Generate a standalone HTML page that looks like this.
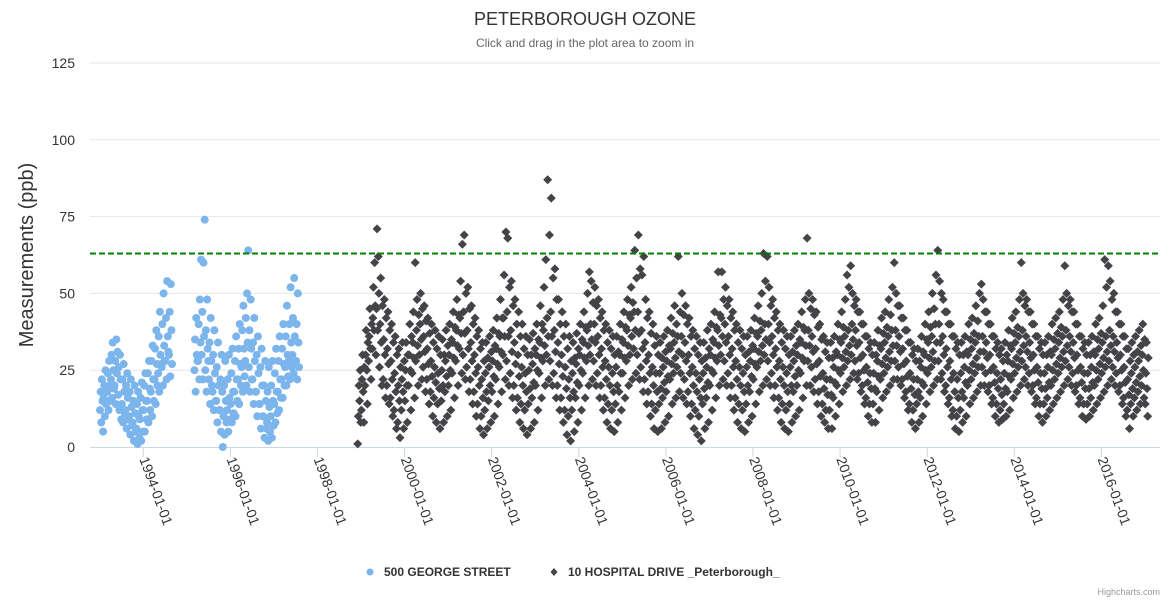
<!DOCTYPE html>
<html><head><meta charset="utf-8"><style>
html,body{margin:0;padding:0;background:#fff;}
svg{display:block;font-family:"Liberation Sans","DejaVu Sans",sans-serif;}
</style></head><body>
<svg id="chart" width="1170" height="600" viewBox="0 0 1170 600">
<rect width="1170" height="600" fill="#fff"/>
<text x="585" y="25" text-anchor="middle" font-size="18" fill="#333">PETERBOROUGH OZONE</text>
<text x="585" y="47" text-anchor="middle" font-size="12" fill="#666">Click and drag in the plot area to zoom in</text>
<text transform="translate(33,255) rotate(-90)" text-anchor="middle" font-size="20" fill="#333">Measurements (ppb)</text>
<g id="grid"></g><g id="xaxis"></g><g id="s1"></g><g id="s2"></g><g id="plotline"></g>
<g>
<g><circle cx="370" cy="572" r="3.5" fill="#7cb5ec"/><text x="384" y="576" font-size="12" font-weight="bold" fill="#333">500 GEORGE STREET</text></g>
<g><path d="M554 568 L557.5 572 L554 576 L550.5 572Z" fill="#434348"/><text x="568" y="576" font-size="12" font-weight="bold" fill="#333">10 HOSPITAL DRIVE _Peterborough_</text></g>
</g>
<text x="1160" y="595" text-anchor="end" font-size="9" fill="#999">Highcharts.com</text>
</svg>
<script>
const yTicks=[0,25,50,75,100,125];
const xTickYears=[1994,1996,1998,2000,2002,2004,2006,2008,2010,2012,2014,2016];
const threshold=63;
const georgeStarts=[[1993,0],[1995,2]];
const georgeValues=[[
12,18,8,22,15,5, 16,20,10,25,14,19, 18,24,12,28,20,15, 22,30,16,34,25,19, 20,28,14,35,24,31, 17,26,12,30,22,9,
14,22,8,27,18,11, 12,20,6,24,16,9, 10,18,4,22,13,7, 8,15,2,20,11,5, 6,14,1,18,10,3, 9,16,2,21,12,5,
12,20,5,24,15,9, 15,24,8,28,19,12, 18,28,10,33,22,15, 22,32,14,38,27,20, 24,36,18,44,30,27, 26,40,20,50,33,28,
28,42,22,54,36,31, 30,44,23,53,38,27],[
25,35,18,42,30,28, 28,40,22,48,34,61, 30,44,22,60,36,74, 25,38,18,48,32,28, 22,34,14,42,28,20, 18,30,12,38,24,15,
15,26,8,34,20,12, 12,22,5,30,18,0, 10,20,4,28,15,8, 12,22,5,30,16,9,
14,24,8,32,18,11, 18,28,10,36,22,15, 22,32,14,40,27,20, 26,38,18,46,32,23, 28,42,20,50,34,64, 26,38,18,48,32,22,
22,34,14,42,28,18, 18,30,10,36,24,14, 14,26,6,32,20,10, 10,20,3,28,15,6, 8,18,2,26,13,5, 10,20,3,28,15,7,
14,24,8,32,18,11, 18,28,12,36,22,16, 22,32,16,40,27,20, 26,36,20,46,30,23, 28,40,22,52,34,26, 30,42,24,55,36,28,
28,40,22,50,34,26]];
const hospitalStart=[1998,11];
const hospitalValues=[
1,10,20,15,25,8,
12,22,30,18,8,26, 20,30,38,25,14,34, 28,36,45,32,22,40, 32,42,52,38,60,46, 30,45,71,38,62,50, 26,40,55,34,20,46, 22,35,48,30,16,42, 20,32,44,27,14,38, 16,28,40,22,10,34, 12,24,36,18,6,30, 8,20,32,15,3,26, 12,22,34,18,6,28,
15,25,34,20,8,30, 20,30,40,25,12,36, 24,34,44,29,16,60, 28,38,48,33,20,43, 30,40,50,35,22,45, 26,36,46,31,18,41, 22,32,42,27,14,37, 18,28,40,23,10,34, 16,26,38,21,8,32, 14,24,36,19,6,30, 15,25,35,20,8,30, 18,28,38,23,10,33,
20,30,40,25,12,35, 24,34,44,29,16,39, 28,38,48,33,20,43, 32,42,54,37,24,66, 30,44,69,37,22,50, 26,38,52,32,18,45, 22,34,46,28,14,40, 18,30,42,24,10,36, 14,26,38,20,6,32, 10,22,34,16,4,28, 12,24,34,18,6,29, 15,26,36,20,8,31,
18,28,38,23,10,33, 22,32,42,27,14,37, 26,36,48,31,18,42, 30,42,56,36,22,70, 28,44,68,36,20,52, 24,38,54,31,16,46, 20,34,48,27,12,40, 16,30,44,23,8,36, 14,26,40,20,6,32, 12,24,36,18,4,30, 14,25,35,19,6,30, 16,27,37,21,8,32,
20,30,40,25,12,35, 24,34,46,29,16,40, 28,38,52,33,20,61, 30,42,87,36,22,69, 28,44,81,36,20,55, 24,38,58,31,16,48, 20,34,48,27,12,40, 16,30,44,23,8,36, 12,26,40,19,4,32, 10,22,36,16,2,28, 12,24,34,18,5,29, 16,27,37,21,8,32,
20,30,40,25,12,35, 24,34,44,29,16,39, 28,38,50,33,20,57, 30,40,54,35,22,47, 28,40,52,34,20,46, 24,36,48,30,16,42, 20,32,44,26,12,38, 16,28,40,22,8,34, 14,26,38,20,6,32, 12,24,36,18,5,30, 14,26,36,20,8,31, 18,30,40,24,12,35,
24,34,44,29,16,39, 28,38,48,33,20,43, 30,42,52,36,22,47, 32,44,64,38,24,55, 30,44,69,37,22,58, 26,38,56,32,18,62, 22,34,48,28,14,42, 18,30,44,24,10,37, 14,26,40,20,6,33, 12,24,36,18,5,30, 14,24,34,19,6,29, 16,26,36,21,8,31,
18,28,38,23,10,33, 22,32,42,27,14,37, 24,34,46,29,16,40, 26,36,62,31,18,44, 24,36,50,30,16,43, 22,34,46,28,14,40, 18,30,42,24,10,36, 14,26,38,20,6,32, 12,24,36,18,4,30, 10,22,34,16,2,28, 14,24,34,19,6,29, 16,26,38,21,8,32,
20,30,40,25,12,35, 24,34,44,29,16,39, 28,38,57,33,20,43, 30,42,57,36,22,48, 28,40,52,34,20,46, 24,36,48,30,16,42, 20,32,44,26,12,38, 16,28,40,22,8,34, 14,26,38,20,6,32, 12,24,36,18,5,30, 14,26,36,20,8,31, 18,28,38,23,10,33,
22,32,42,27,14,37, 26,36,46,31,18,41, 28,38,50,33,20,63, 30,40,54,35,22,62, 28,40,52,34,20,46, 24,36,48,30,16,42, 20,32,44,26,12,38, 16,28,40,22,8,34, 14,26,38,20,6,32, 12,24,36,18,5,30, 14,26,36,20,8,31, 18,28,38,23,10,33,
20,30,40,25,12,35, 24,34,44,29,16,39, 28,38,48,33,20,68, 28,38,50,33,20,45, 26,36,48,31,18,43, 22,32,44,27,14,39, 18,28,40,23,10,35, 14,24,36,19,8,31, 12,22,34,17,6,29, 12,22,34,17,6,29, 16,26,36,21,10,31, 20,30,40,25,14,35,
24,34,44,29,18,39, 26,36,48,31,20,56, 28,38,52,33,22,59, 30,40,50,35,24,46, 28,38,48,33,22,44, 24,34,44,29,18,40, 20,30,40,25,14,36, 16,26,36,21,10,32, 14,24,34,19,8,30, 14,24,34,19,8,30, 18,28,38,23,12,33, 22,32,42,27,16,37,
24,34,44,29,18,39, 26,36,48,31,20,43, 28,38,52,33,22,60, 28,38,50,33,22,46, 26,36,46,31,20,42, 22,32,42,27,16,38, 18,28,38,23,12,34, 14,24,34,19,8,30, 12,22,32,17,6,28, 14,22,32,18,8,28, 16,26,36,21,10,31, 20,30,40,25,14,35,
24,34,44,29,18,39, 26,36,50,31,20,45, 28,40,56,34,22,64, 28,40,54,34,22,50, 24,36,48,30,18,44, 20,32,44,26,14,40, 16,28,40,22,10,36, 12,24,36,18,6,32, 10,22,34,16,5,30, 12,24,34,18,8,30, 16,26,36,21,10,31, 20,30,40,25,14,35,
22,32,42,27,16,37, 24,34,46,29,18,41, 26,36,50,31,20,53, 26,36,48,31,20,44, 24,34,44,29,18,40, 20,30,40,25,14,36, 16,26,36,21,10,32, 14,24,34,19,8,30, 12,22,32,17,9,28, 14,24,34,19,10,30, 18,28,38,23,12,33, 22,32,42,27,16,37,
24,34,44,29,18,39, 26,36,48,31,20,60, 28,38,50,33,22,46, 26,36,48,31,20,44, 24,34,44,29,18,40, 20,30,40,25,14,36, 16,26,36,21,10,32, 14,24,34,19,8,30, 14,24,34,19,10,30, 16,26,36,21,12,31, 20,30,40,25,14,35, 22,32,42,27,16,37,
24,34,44,29,18,39, 26,36,48,31,20,59, 28,38,50,33,22,46, 26,36,48,31,20,44, 24,34,44,29,18,40, 20,30,40,25,14,36, 16,26,36,21,10,32, 14,24,34,19,9,30, 14,24,34,19,10,30, 16,26,36,21,12,31, 20,30,40,25,14,35, 22,32,42,27,16,37,
24,34,46,29,18,61, 26,36,52,31,20,59, 28,38,54,33,22,48, 26,36,50,31,20,44, 24,34,44,29,18,40, 20,30,40,25,14,36, 16,26,36,21,10,32, 12,22,32,17,6,28, 14,24,34,19,10,30, 16,26,36,21,12,31, 18,28,38,23,14,33, 20,30,40,25,16,35,
14,24,34,19,10,29];

const NS="http://www.w3.org/2000/svg";
const X0=90,X1=1160,Y0=447,Y1=63;
function xScale(t){return 143.3+(t-1994)*43.55;}
function yScale(v){return Y0-(v/125)*(Y0-Y1);}
function mk(tag,attrs,parent){const e=document.createElementNS(NS,tag);for(const k in attrs)e.setAttribute(k,attrs[k]);parent.appendChild(e);return e;}
const grid=document.getElementById('grid');
yTicks.forEach(v=>{
  const y=yScale(v);
  if(v>0){const l=mk('line',{x1:X0,x2:X1,y1:y,y2:y,stroke:'#e6e6e6','stroke-width':1},grid);
    
    }
  const t=mk('text',{x:75,y:y+5,'text-anchor':'end','font-size':14,fill:'#333'},grid);
  t.textContent=v;
  
  
});
const xa=document.getElementById('xaxis');
const al=mk('line',{x1:X0,x2:X1,y1:Y0+0.5,y2:Y0+0.5,stroke:'#ccd6eb','stroke-width':1},xa);


xTickYears.forEach(yr=>{
  const x=xScale(yr);
  const tk=mk('line',{x1:x,x2:x,y1:Y0,y2:Y0+10,stroke:'#ccd6eb','stroke-width':1},xa);
  
  
  const t=mk('text',{x:0,y:0,transform:`translate(${x-4},${Y0+12}) rotate(70)`,'font-size':14,fill:'#333'},xa);
  t.textContent=yr+'-01-01';
  
  
});
const s1=document.getElementById('s1');


georgeValues.forEach((arr,si)=>{
  const [sy,sm]=georgeStarts[si];
  arr.forEach((v,i)=>{
    const m=sm+Math.floor(i/6),k=i%6;
    const t=sy+(m+(k+0.5)/6)/12;
    const c=mk('circle',{cx:xScale(t),cy:yScale(v),r:4,fill:'#7cb5ec'},s1);
    
    
  });
});
const s2=document.getElementById('s2');


hospitalValues.forEach((v,i)=>{
  const m=hospitalStart[1]+Math.floor(i/6),k=i%6;
  const t=hospitalStart[0]+(m+(k+0.5)/6)/12;
  const x=xScale(t),y=yScale(v),r=4.5;
  const p=mk('path',{d:`M${x} ${y-r}L${x+r} ${y}L${x} ${y+r}L${x-r} ${y}Z`,fill:'#434348'},s2);
  
  
});
const pl=document.getElementById('plotline');
const ty=yScale(threshold);
const ln=mk('line',{x1:X0,x2:X1,y1:ty,y2:ty,stroke:'#008000','stroke-width':2,'stroke-dasharray':'6,3'},pl);


</script>
</body></html>
